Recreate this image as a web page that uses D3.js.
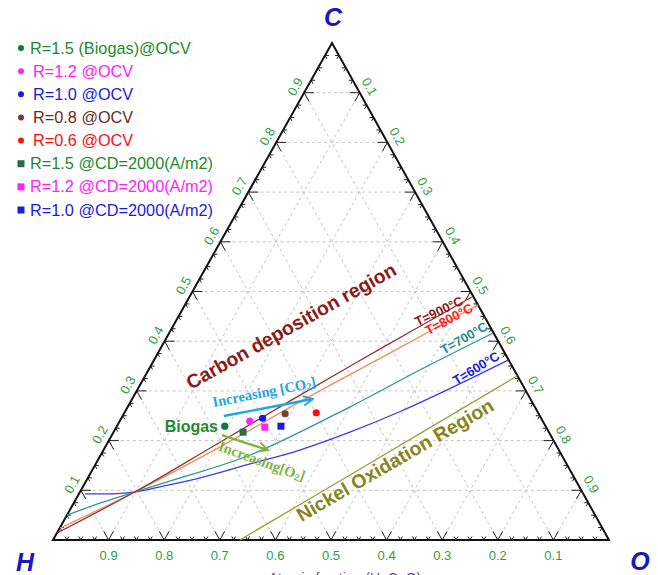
<!DOCTYPE html>
<html>
<head>
<meta charset="utf-8">
<script src="https://cdn.jsdelivr.net/npm/d3@7"></script>
<style>
  body { margin: 0; background: #fff; }
  svg { display: block; font-family: "Liberation Sans", Arial, sans-serif; }
</style>
</head>
<body>
<div id="chart"></div>
<script>
// all compositions are atomic fractions [C, O]; H = 1 - C - O
var curve900 = [[0.014, 0.000], [0.097, 0.099], [0.185, 0.190], [0.280, 0.286], [0.384, 0.395], [0.489, 0.508]];
var curve800 = [[0.024, 0.001], [0.097, 0.099], [0.187, 0.206], [0.286, 0.313], [0.376, 0.417], [0.473, 0.527]];
var curve700 = [[0.050, 0.000], [0.074, 0.047], [0.097, 0.099], [0.125, 0.166], [0.171, 0.269], [0.268, 0.400], [0.342, 0.488], [0.416, 0.582]];
var curve600 = [[0.093, 0.011], [0.093, 0.056], [0.097, 0.099], [0.107, 0.139], [0.125, 0.202], [0.153, 0.278], [0.181, 0.353], [0.217, 0.425], [0.258, 0.494], [0.296, 0.549], [0.362, 0.637]];
var nickelLine = [[0.000, 0.336], [0.165, 0.503], [0.330, 0.669]];

var seriesNames = ["R=1.5 (Biogas)@OCV", "R=1.2 @OCV", "R=1.0 @OCV", "R=0.8 @OCV", "R=0.6 @OCV",
                   "R=1.5 @CD=2000(A/m2)", "R=1.2 @CD=2000(A/m2)", "R=1.0 @CD=2000(A/m2)"];
var seriesC = [0.229, 0.239, 0.245, 0.254, 0.256, 0.217, 0.227, 0.229];
var seriesO = [0.194, 0.234, 0.254, 0.290, 0.345, 0.233, 0.267, 0.295];
var seriesShape = ["circle", "circle", "circle", "circle", "circle", "square", "square", "square"];

var arrowCO2 = [[0.2495, 0.182], [0.2837, 0.325]];
var arrowO2 = [[0.211, 0.198], [0.181, 0.296]];

var tickValues = [0.1, 0.2, 0.3, 0.4, 0.5, 0.6, 0.7, 0.8, 0.9];

// ---- styles
var markColors = ["#0d7a3a", "#ff22ff", "#1a1ae6", "#7b3b35", "#ff1010", "#2a6b45", "#ff22ff", "#1a1ae6"];
var textColors = ["#1e8a2e", "#ff22ff", "#1a1ae6", "#6b2a26", "#ff1010", "#1e8a2e", "#ff22ff", "#1a1ae6"];
var tickGreen = "#2f9e3f";

var W = 658, H = 575;
var svg = d3.select("#chart").append("svg")
  .attr("width", W)
  .attr("height", H);

// triangle corners: H bottom-left, O bottom-right, C top
var x0 = 53;
var yC = d3.scaleLinear().domain([0, 1]).range([540, 43]);
var xC = d3.scaleLinear().domain([0, 1]).range([0, 279]);
var xO = d3.scaleLinear().domain([0, 1]).range([0, 556]);

function proj(c, o) {
  return [x0 + xC(c) + xO(o), yC(c)];
}

var g = svg.append("g");

// grid
var grid = g.append("g")
  .attr("stroke", "#c4c4c4")
  .attr("stroke-dasharray", "3,3")
  .attr("fill", "none");
tickValues.forEach(function(t) {
  // constant C
  var a = proj(t, 0), b = proj(t, 1 - t);
  grid.append("line").attr("x1", a[0]).attr("y1", a[1]).attr("x2", b[0]).attr("y2", b[1]);
  // constant O
  a = proj(0, t); b = proj(1 - t, t);
  grid.append("line").attr("x1", a[0]).attr("y1", a[1]).attr("x2", b[0]).attr("y2", b[1]);
  // constant H
  a = proj(0, 1 - t); b = proj(1 - t, 0);
  grid.append("line").attr("x1", a[0]).attr("y1", a[1]).attr("x2", b[0]).attr("y2", b[1]);
});

// unit directions along the grid
function unit(p, q) {
  var dx = q[0] - p[0], dy = q[1] - p[1], n = Math.sqrt(dx * dx + dy * dy);
  return [dx / n, dy / n];
}
var pH = proj(0, 0), pC = proj(1, 0), pO = proj(0, 1);
var uCO = unit(pC, pO);   // down-right
var uHC = unit(pH, pC);   // up-right

var ticks = g.append("g").attr("stroke", "#222").attr("stroke-width", 1).attr("fill", "none");
function vTick(p, d1, d2, len) {
  ticks.append("path")
    .attr("d", "M" + (p[0] + d1[0] * len) + "," + (p[1] + d1[1] * len) +
               "L" + p[0] + "," + p[1] +
               "L" + (p[0] + d2[0] * len) + "," + (p[1] + d2[1] * len));
}
d3.range(1, 40).forEach(function(i) {
  var t = i / 40;
  var major = i % 4 === 0;
  var len = major ? 10 : 4;
  // bottom edge (C = 0)
  vTick(proj(0, t), [-uCO[0], -uCO[1]], uHC, len);
  // left edge (O = 0)
  vTick(proj(t, 0), [1, 0], uCO, len);
  // right edge (H = 0)
  vTick(proj(t, 1 - t), [-1, 0], [-uHC[0], -uHC[1]], len);
});

// triangle frame
g.append("path")
  .attr("d", "M" + pH + "L" + pC + "L" + pO + "Z")
  .attr("fill", "none")
  .attr("stroke", "#111")
  .attr("stroke-width", 2);

// tick labels
var lbl = g.append("g").attr("fill", tickGreen).attr("font-size", 13);
var angLeft = Math.atan2(pC[1] - pH[1], pC[0] - pH[0]) * 180 / Math.PI;
var angRight = Math.atan2(pO[1] - pC[1], pO[0] - pC[0]) * 180 / Math.PI;
tickValues.forEach(function(t) {
  var p = proj(0, 1 - t);
  lbl.append("text").attr("x", p[0]).attr("y", 560).attr("text-anchor", "middle").text(t.toFixed(1));
  // left edge: C fraction
  p = proj(t, 0);
  lbl.append("text")
    .attr("transform", "translate(" + (p[0] - 9) + "," + (p[1] - 6) + ") rotate(" + angLeft + ")")
    .attr("text-anchor", "middle").attr("dy", "0.35em").text(t.toFixed(1));
  // right edge: O fraction
  p = proj(1 - t, t);
  lbl.append("text")
    .attr("transform", "translate(" + (p[0] + 10) + "," + (p[1] - 6) + ") rotate(" + angRight + ")")
    .attr("text-anchor", "middle").attr("dy", "0.35em").text(t.toFixed(1));
});

// vertex labels
var vtx = g.append("g").attr("fill", "#1818c0").attr("font-size", 25)
  .attr("font-weight", "bold").attr("font-style", "italic").attr("text-anchor", "middle");
vtx.append("text").attr("x", 333).attr("y", 26).text("C");
vtx.append("text").attr("x", 25).attr("y", 571).text("H");
vtx.append("text").attr("x", 640).attr("y", 570).text("O");

// axis title (cut off by the bottom edge, as in the source figure)
g.append("text").attr("x", 345).attr("y", 583).attr("text-anchor", "middle")
  .attr("fill", "#7a3aa8").attr("font-size", 14).text("Atomic fraction (H, C, O)");

// curves
var line = d3.line()
  .x(function(d) { return proj(d[0], d[1])[0]; })
  .y(function(d) { return proj(d[0], d[1])[1]; })
  .curve(d3.curveCatmullRom.alpha(0.5));
var curves = [
  { data: nickelLine, color: "#9c9c3a" },
  { data: curve600, color: "#3a3aee" },
  { data: curve700, color: "#2f9595" },
  { data: curve800, color: "#f08a60" },
  { data: curve900, color: "#8f3535" }
];
g.selectAll(".curve").data(curves).enter().append("path")
  .attr("class", "curve")
  .attr("d", function(d) { return line(d.data); })
  .attr("fill", "none")
  .attr("stroke", function(d) { return d.color; })
  .attr("stroke-width", 1.3);

// region labels
function rotText(x, y, ang, txt, color, size, family) {
  return g.append("text")
    .attr("transform", "translate(" + x + "," + y + ") rotate(" + ang + ")")
    .attr("text-anchor", "middle").attr("dy", "0.35em")
    .attr("fill", color).attr("font-size", size).attr("font-weight", "bold")
    .attr("font-family", family || null)
    .text(txt);
}
rotText(291, 326, -29.3, "Carbon deposition region", "#8b1a1a", 19.5);
rotText(395, 460, -30.2, "Nickel Oxidation Region", "#85851a", 19.5);
rotText(439, 311, -25.6, "T=900\u00b0C", "#8b1a1a", 13);
rotText(449, 319, -28, "T=800\u00b0C", "#ff1a1a", 13);
rotText(464, 338, -29.5, "T=700\u00b0C", "#1f8c8c", 13);
rotText(476, 368, -31, "T=600\u00b0C", "#1a1ae6", 13);

// arrows
var defs = svg.append("defs");
function arrow(id, color) {
  defs.append("marker").attr("id", id)
    .attr("viewBox", "0 0 10 10").attr("refX", 9).attr("refY", 5)
    .attr("markerWidth", 5).attr("markerHeight", 5).attr("orient", "auto")
    .append("path").attr("d", "M1,1L9,5L1,9").attr("fill", "none")
    .attr("stroke", color).attr("stroke-width", 1.6);
}
arrow("ah-co2", "#1ea6e0");
arrow("ah-o2", "#7ab540");
[[arrowCO2, "#1ea6e0", "ah-co2"], [arrowO2, "#7ab540", "ah-o2"]].forEach(function(a) {
  var p = proj(a[0][0][0], a[0][0][1]), q = proj(a[0][1][0], a[0][1][1]);
  g.append("line").attr("x1", p[0]).attr("y1", p[1]).attr("x2", q[0]).attr("y2", q[1])
    .attr("stroke", a[1]).attr("stroke-width", 2.4)
    .attr("marker-end", "url(#" + a[2] + ")");
});

var co2 = rotText(264, 392, -11, "", "#1ea6e0", 14.5, "'Liberation Serif', 'Times New Roman', serif");
co2.append("tspan").text("Increasing [CO");
co2.append("tspan").attr("font-size", 10).attr("dy", "0.15em").text("2");
co2.append("tspan").attr("dy", "-0.15em").text("]");
var o2 = rotText(262, 461, 20.2, "", "#7ab540", 14.5, "'Liberation Serif', 'Times New Roman', serif");
o2.append("tspan").text("Increasing[O");
o2.append("tspan").attr("font-size", 10).attr("dy", "0.15em").text("2");
o2.append("tspan").attr("dy", "-0.15em").text("]");

g.append("text").attr("x", 218).attr("y", 432).attr("text-anchor", "end")
  .attr("fill", "#1e8a2e").attr("font-size", 16).attr("font-weight", "bold").text("Biogas");

// data points
var pts = seriesNames.map(function(n, i) {
  return { name: n, c: seriesC[i], o: seriesO[i], shape: seriesShape[i], color: markColors[i] };
});
var marks = g.append("g");
pts.forEach(function(d) {
  var p = proj(d.c, d.o);
  if (d.shape === "circle") {
    marks.append("circle").attr("cx", p[0]).attr("cy", p[1]).attr("r", 3.6).attr("fill", d.color);
  } else {
    marks.append("rect").attr("x", p[0] - 3.5).attr("y", p[1] - 3.5)
      .attr("width", 7).attr("height", 7).attr("fill", d.color);
  }
});

// legend
var legend = svg.append("g");
var rowY = d3.scaleLinear().domain([0, 7]).range([48, 210]);
pts.forEach(function(d, i) {
  var y = rowY(i);
  if (d.shape === "circle") {
    legend.append("circle").attr("cx", 21).attr("cy", y).attr("r", 3).attr("fill", d.color);
  } else {
    legend.append("rect").attr("x", 17.5).attr("y", y - 3.5).attr("width", 7).attr("height", 7).attr("fill", d.color);
  }
  legend.append("text").attr("x", i === 0 || i >= 5 ? 30 : 33).attr("y", y + 5.5)
    .attr("fill", textColors[i]).attr("font-size", 16.3).text(d.name);
});
</script>
</body>
</html>
